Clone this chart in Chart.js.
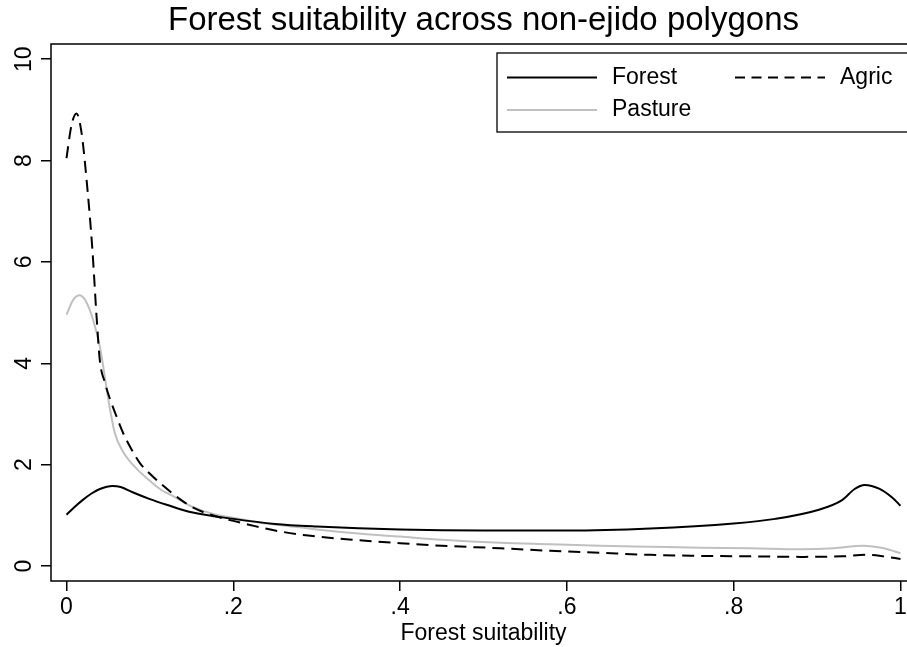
<!DOCTYPE html>
<html>
<head>
<meta charset="utf-8">
<script src="https://cdn.jsdelivr.net/npm/chart.js@4.4.1/dist/chart.umd.min.js"></script>
<style>
  html, body { margin: 0; padding: 0; background: #fff; overflow: hidden; }
  #wrap { position: relative; width: 925px; height: 647px; }
</style>
</head>
<body>
<div id="wrap"><canvas id="c"></canvas></div>
<script>
// ---- data ----
const forestX = [0, 0.01, 0.02, 0.03, 0.04, 0.055, 0.065, 0.08, 0.1, 0.12, 0.15, 0.2, 0.25, 0.3, 0.4, 0.5, 0.6, 0.7, 0.8, 0.85, 0.9, 0.93, 0.945, 0.957, 0.975, 0.99, 1.0];
const forestY = [1.01, 1.17, 1.31, 1.43, 1.52, 1.58, 1.56, 1.45, 1.32, 1.21, 1.06, 0.93, 0.83, 0.78, 0.72, 0.70, 0.70, 0.74, 0.84, 0.93, 1.10, 1.30, 1.52, 1.60, 1.52, 1.35, 1.19];

const agricX = [0, 0.006, 0.012, 0.018, 0.024, 0.031, 0.036, 0.04, 0.046, 0.052, 0.06, 0.068, 0.078, 0.088, 0.1, 0.112, 0.136, 0.152, 0.175, 0.2, 0.22, 0.25, 0.29, 0.35, 0.4, 0.45, 0.52, 0.58, 0.64, 0.7, 0.76, 0.82, 0.88, 0.93, 0.96, 0.98, 1.0];
const agricY = [8.05, 8.7, 8.93, 8.55, 7.63, 6.25, 4.93, 4.05, 3.62, 3.3, 2.95, 2.62, 2.3, 2.03, 1.82, 1.64, 1.32, 1.15, 1.0, 0.89, 0.81, 0.70, 0.60, 0.51, 0.45, 0.40, 0.35, 0.30, 0.26, 0.22, 0.20, 0.19, 0.18, 0.19, 0.22, 0.19, 0.14];

const pastureX = [0, 0.008, 0.016, 0.024, 0.032, 0.04, 0.044, 0.05, 0.058, 0.068, 0.084, 0.1, 0.112, 0.13, 0.152, 0.175, 0.2, 0.23, 0.26, 0.3, 0.35, 0.4, 0.45, 0.52, 0.58, 0.64, 0.7, 0.76, 0.82, 0.88, 0.92, 0.955, 0.98, 1.0];
const pastureY = [4.96, 5.25, 5.34, 5.2, 4.85, 4.33, 3.94, 3.3, 2.62, 2.25, 1.92, 1.68, 1.52, 1.36, 1.16, 1.03, 0.95, 0.86, 0.80, 0.72, 0.64, 0.58, 0.52, 0.46, 0.43, 0.40, 0.38, 0.36, 0.35, 0.33, 0.35, 0.40, 0.35, 0.25];

const seriesNames = ["Forest", "Agric", "Pasture"];
const xTicks = [0, 0.2, 0.4, 0.6, 0.8, 1];
const xTickLabels = ["0", ".2", ".4", ".6", ".8", "1"];
const yTicks = [0, 2, 4, 6, 8, 10];
const yTickLabels = ["0", "2", "4", "6", "8", "10"];
const titleText = "Forest suitability across non-ejido polygons";
const xTitle = "Forest suitability";

const FONT = "'Liberation Sans', Arial, Helvetica, sans-serif";
const toPts = (xs, ys) => xs.map((x, i) => ({ x: x, y: ys[i] }));

const framePlugin = {
  id: 'frame',
  beforeDatasetsDraw(chart) {
    const a = chart.chartArea, ctx = chart.ctx;
    ctx.save();
    ctx.strokeStyle = '#000';
    ctx.lineWidth = 1.5;
    ctx.strokeRect(a.left, a.top, a.right - a.left, a.bottom - a.top);
    ctx.restore();
  }
};

const yLabelPlugin = {
  id: 'ylabels',
  afterDraw(chart) {
    const s = chart.scales.y, ctx = chart.ctx;
    ctx.save();
    ctx.fillStyle = '#000';
    ctx.font = "23px " + FONT;
    ctx.textAlign = 'center';
    ctx.textBaseline = 'middle';
    yTicks.forEach((v, i) => {
      const py = s.getPixelForValue(v);
      ctx.save();
      ctx.translate(25, py);
      ctx.rotate(-Math.PI / 2);
      ctx.fillText(yTickLabels[i], 0, 0);
      ctx.restore();
    });
    ctx.restore();
  }
};

const legendPlugin = {
  id: 'customLegend',
  afterDraw(chart) {
    const ctx = chart.ctx;
    const bx = 497, by = 53, bw = 440, bh = 79;
    ctx.save();
    ctx.fillStyle = '#fff';
    ctx.fillRect(bx, by, bw, bh);
    ctx.strokeStyle = '#000';
    ctx.lineWidth = 1.3;
    ctx.strokeRect(bx, by, bw, bh);
    const slots = [
      { lx: 507, ty: 77.5 },
      { lx: 735, ty: 77.5 },
      { lx: 507, ty: 110 }
    ];
    chart.data.datasets.forEach((ds, i) => {
      const s = slots[i];
      ctx.save();
      ctx.strokeStyle = ds.borderColor;
      ctx.lineWidth = ds.borderWidth;
      ctx.setLineDash(ds.borderDash && ds.borderDash.length ? [10, 6.5] : []);
      ctx.beginPath();
      ctx.moveTo(s.lx, s.ty);
      ctx.lineTo(s.lx + 90, s.ty);
      ctx.stroke();
      ctx.restore();
      ctx.fillStyle = '#000';
      ctx.font = "23px " + FONT;
      ctx.textAlign = 'left';
      ctx.textBaseline = 'middle';
      ctx.fillText(ds.label, s.lx + 105, s.ty);
    });
    ctx.restore();
  }
};

new Chart(document.getElementById('c'), {
  type: 'line',
  data: {
    datasets: [
      { label: seriesNames[0], data: toPts(forestX, forestY), borderColor: '#000', borderWidth: 2, pointRadius: 0, cubicInterpolationMode: 'monotone', fill: false },
      { label: seriesNames[1], data: toPts(agricX, agricY), borderColor: '#000', borderWidth: 2, borderDash: [12, 7], pointRadius: 0, cubicInterpolationMode: 'monotone', fill: false },
      { label: seriesNames[2], data: toPts(pastureX, pastureY), borderColor: '#c0c0c0', borderWidth: 2, pointRadius: 0, cubicInterpolationMode: 'monotone', fill: false }
    ]
  },
  options: {
    responsive: true,
    maintainAspectRatio: false,
    animation: false,
    layout: { padding: { left: 0, right: 9, top: 0, bottom: 0 } },
    plugins: {
      legend: { display: false },
      tooltip: { enabled: false },
      title: {
        display: true,
        text: titleText,
        fullSize: false,
        color: '#000',
        font: { family: FONT, size: 33, weight: 'normal', lineHeight: 1.2 },
        padding: { top: 1, bottom: 3.4 }
      }
    },
    scales: {
      x: {
        type: 'linear',
        min: -0.0186,
        max: 1.0186,
        afterBuildTicks: (s) => { s.ticks = xTicks.map(v => ({ value: v })); },
        afterFit: (s) => { s.height = 66; },
        border: { display: false },
        grid: { drawOnChartArea: false, drawTicks: true, tickLength: 10, color: '#000', lineWidth: 1.5 },
        ticks: {
          color: '#000', font: { family: FONT, size: 23 }, padding: 3, maxRotation: 0, autoSkip: false,
          callback: (v) => { const i = xTicks.findIndex(t => Math.abs(t - v) < 1e-9); return i >= 0 ? xTickLabels[i] : ''; }
        },
        title: { display: true, text: xTitle, color: '#000', font: { family: FONT, size: 23 }, padding: { top: 0, bottom: 0 } }
      },
      y: {
        type: 'linear',
        min: -0.296,
        max: 10.3,
        afterBuildTicks: (s) => { s.ticks = yTicks.map(v => ({ value: v })); },
        afterFit: (s) => { s.width = 51; },
        border: { display: false },
        grid: { drawOnChartArea: false, drawTicks: true, tickLength: 10, color: '#000', lineWidth: 1.5 },
        ticks: { display: false }
      }
    }
  },
  plugins: [framePlugin, yLabelPlugin, legendPlugin]
});
</script>
</body>
</html>
